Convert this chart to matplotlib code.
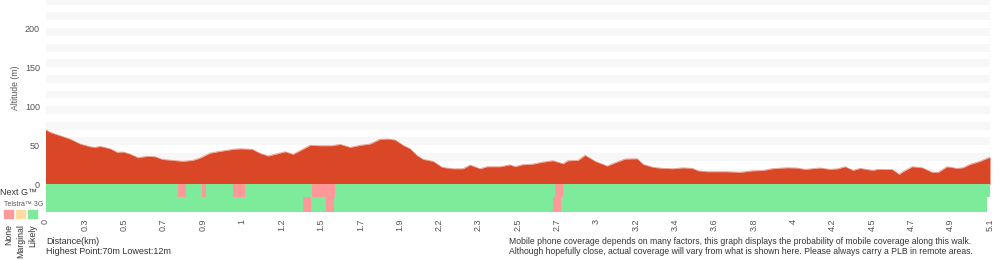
import numpy as np
import matplotlib
matplotlib.use("Agg")
import matplotlib.pyplot as plt

plt.rcParams['font.family'] = ['Liberation Sans', 'DejaVu Sans']

# altitude profile (km, m)
dist_km = [0.000, 0.024, 0.078, 0.132, 0.186, 0.240, 0.267, 0.294, 0.348, 0.386,
           0.418, 0.456, 0.499, 0.548, 0.591, 0.629, 0.683, 0.742, 0.796, 0.834,
           0.888, 0.942, 1.013, 1.050, 1.115, 1.158, 1.201, 1.239, 1.293, 1.336,
           1.374, 1.428, 1.482, 1.547, 1.590, 1.644, 1.698, 1.752, 1.806, 1.849,
           1.887, 1.930, 1.968, 2.006, 2.038, 2.092, 2.141, 2.200, 2.254, 2.292,
           2.346, 2.384, 2.454, 2.508, 2.535, 2.573, 2.632, 2.686, 2.740, 2.794,
           2.821, 2.875, 2.913, 2.967, 3.032, 3.075, 3.129, 3.194, 3.226, 3.280,
           3.334, 3.388, 3.442, 3.491, 3.523, 3.572, 3.680, 3.750, 3.820, 3.874,
           3.923, 4.004, 4.058, 4.101, 4.182, 4.236, 4.279, 4.317, 4.360, 4.398,
           4.436, 4.468, 4.490, 4.571, 4.609, 4.630, 4.679, 4.733, 4.787, 4.820,
           4.868, 4.922, 4.954, 4.992, 5.046, 5.084, 5.100]
altitude_m = [70.0, 66.6, 62.3, 58.0, 51.7, 48.2, 47.4, 48.7, 45.6, 41.0,
              41.4, 38.8, 34.1, 35.9, 35.4, 32.0, 30.8, 29.5, 30.8, 33.7,
              40.0, 42.3, 44.9, 45.6, 44.9, 39.7, 36.3, 38.5, 41.8, 38.5,
              43.1, 50.0, 49.5, 49.5, 51.3, 47.4, 50.0, 51.7, 57.7, 58.1,
              56.8, 50.0, 45.6, 36.7, 32.0, 29.5, 21.8, 20.0, 20.0, 24.7,
              20.0, 22.6, 22.6, 25.0, 22.6, 25.1, 26.0, 28.6, 30.3, 26.4,
              30.3, 30.7, 37.2, 29.5, 23.5, 27.7, 32.4, 32.8, 25.6, 21.8,
              20.5, 20.0, 21.2, 20.5, 17.4, 16.2, 16.2, 15.4, 17.4, 17.8,
              20.0, 21.3, 20.9, 19.2, 21.0, 19.2, 20.0, 22.6, 17.9, 20.5,
              19.0, 17.9, 19.2, 19.0, 12.8, 16.2, 22.6, 21.3, 15.4, 15.4,
              22.6, 20.5, 21.3, 25.6, 29.5, 33.3, 34.6]

tick_labels = ['0', '0.3', '0.5', '0.7', '0.9', '1', '1.2', '1.5', '1.7', '1.9',
               '2.2', '2.3', '2.5', '2.7', '3', '3.2', '3.4', '3.6', '3.8', '4',
               '4.2', '4.5', '4.7', '4.9', '5.1']

# coverage segments: boundaries and status between them
nextg_breaks = [0, 0.716, 0.759, 0.845, 0.867, 1.012, 1.077, 1.439, 1.563, 2.751, 2.794, 5.1]
nextg_status = ['Likely', 'None', 'Likely', 'None', 'Likely', 'None', 'Likely',
                'None', 'Likely', 'None', 'Likely']
g3_breaks = [0, 1.390, 1.433, 1.514, 1.557, 2.740, 2.783, 5.084]
g3_status = ['Likely', 'None', 'Likely', 'None', 'Likely', 'None', 'Likely']

cov_colors = {'None': '#ff9999', 'Marginal': '#ffdda0', 'Likely': '#7deb9a'}
red = '#d94727'
grey_txt = '#555555'

fig = plt.figure(figsize=(10, 2.6), dpi=100)
ax = fig.add_axes([0.0455, 0.1858, 0.9445, 0.8142])

for lo in range(10, 240, 20):
    ax.axhspan(lo, lo + 10, color='#f7f7f7', lw=0, zorder=0)

ax.fill_between(dist_km, altitude_m, 0, color=red, lw=0, zorder=2)
ax.plot(dist_km, altitude_m, color='#e8a090', lw=0.6, zorder=1)


def draw_row(breaks, status, y0, h):
    for i, s in enumerate(status):
        ax.broken_barh([(breaks[i], breaks[i + 1] - breaks[i])], (y0, h),
                       color=cov_colors[s], lw=0, zorder=3)


draw_row(nextg_breaks, nextg_status, -16, 16)
draw_row(g3_breaks, g3_status, -35, 19)

ax.set_xlim(0, 5.1)
ax.set_ylim(-35, 236)
ax.set_yticks([0, 50, 100, 150, 200])
ax.tick_params(axis='y', length=0, pad=4, labelsize=6.5, labelcolor=grey_txt)
ax.set_xticks(np.linspace(0, 5.1, len(tick_labels)))
ax.set_xticklabels(tick_labels, rotation=90, va='top')
ax.tick_params(axis='x', length=0, pad=5, labelsize=6.5, labelcolor=grey_txt)
for sp in ax.spines.values():
    sp.set_visible(False)

fig.text(0.016, 1 - 88 / 260, 'Altitude (m)', rotation=90, ha='center', va='center',
         fontsize=6.2, color=grey_txt)
fig.text(0.0005, 1 - 192.5 / 260, 'Next G™', ha='left', va='center', fontsize=6.5, color='#333333')
fig.text(0.004, 1 - 204 / 260, 'Telstra™ 3G', ha='left', va='center', fontsize=5, color=grey_txt)

for i, name in enumerate(['None', 'Marginal', 'Likely']):
    cx = (8.3 + 12 * i) / 1000
    fig.patches.append(plt.Rectangle((cx - 0.0042, 1 - 218 / 260), 0.0084, 8.5 / 260,
                                     transform=fig.transFigure, color=cov_colors[name]))
    fig.text(cx, 1 - 224 / 260, name, rotation=90, ha='center', va='top',
             fontsize=6.3, color='#333333')

fig.text(0.046, 1 - 241 / 260, 'Distance(km)', ha='left', va='center', fontsize=6.5, color='#333333')
fig.text(0.046, 1 - 252 / 260, 'Highest Point:70m Lowest:12m', ha='left', va='center',
         fontsize=6.5, color='#333333')
fig.text(0.509, 1 - 246.5 / 260,
         'Mobile phone coverage depends on many factors, this graph displays the probability of mobile coverage along this walk.\n'
         'Although hopefully close, actual coverage will vary from what is shown here. Please always carry a PLB in remote areas.',
         ha='left', va='center', fontsize=6.2, color='#333333', linespacing=1.05)

fig.savefig('out.png', dpi=100)
